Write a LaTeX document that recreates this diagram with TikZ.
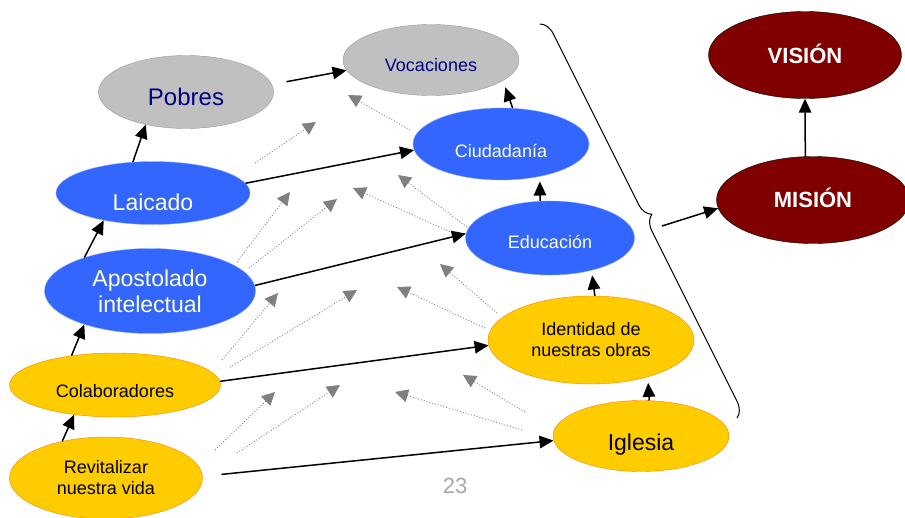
\documentclass[tikz,border=0pt]{standalone}
\usepackage{fontspec}
\setmainfont{Liberation Sans}
\usetikzlibrary{arrows.meta, shapes.geometric, decorations.pathreplacing}
\definecolor{nodeblue}{HTML}{3366FF}
\definecolor{nodegray}{HTML}{C0C0C0}
\definecolor{nodeyellow}{HTML}{FFCC00}
\definecolor{nodered}{HTML}{800000}
\definecolor{navytext}{HTML}{000080}
\definecolor{paletext}{HTML}{FFFFCC}
\definecolor{hintgray}{HTML}{808080}
\tikzset{%
    edge/.style={%
        line width=1.5pt,
        -{Triangle[length=14pt,width=12.5pt]},
    },
    hint/.style={%
        draw=hintgray, dotted, line width=0.9pt,
        -{Triangle[length=13pt,width=13pt]},
    },
    oval/.style={%
        ellipse,
        inner sep=0pt,
        align=center,
    },
    grayel/.style={%
        oval,
        fill=nodegray,
        draw=nodegray!80!black, thin,
        text=navytext,
    },
    blueel/.style={%
        oval,
        fill=nodeblue,
        draw=nodeblue!60!white, thin,
        text=paletext,
    },
    yellowel/.style={%
        oval,
        fill=nodeyellow,
        draw=orange, thin,
        text=black,
    },
    redel/.style={%
        oval,
        fill=nodered,
        draw=black, thin,
        text=white,
        font=\fontsize{22}{24}\selectfont\bfseries,
    },
    bigtext/.style={font=\fontsize{23}{26}\selectfont},
    smalltext/.style={font=\fontsize{18}{21}\selectfont},
    txt/.style={text height=#1, text depth=0pt},
}

\begin{document}
\begin{tikzpicture}[x=1pt, y=-1pt]
	\useasboundingbox (0,0) rectangle (905,517);

	% left column
	\node [grayel, font=\fontsize{24}{26}\selectfont, txt=27pt,
	       minimum width=175pt, minimum height=73pt] (pobres) at (186,92) {Pobres};
	\node [blueel, bigtext, txt=34.5pt,
	       minimum width=194pt, minimum height=63pt] (laicado) at (153,193) {Laicado};
	\node [blueel, bigtext,
	       minimum width=211pt, minimum height=85pt] (apostolado) at (150,291) {Apostolado\\intelectual};
	\node [yellowel, smalltext, txt=24pt,
	       minimum width=211pt, minimum height=64pt] (colab) at (115,385) {Colaboradores};
	\node [yellowel, smalltext,
	       minimum width=193pt, minimum height=82pt] (revital) at (106,478) {Revitalizar\\nuestra vida};

	% right column
	\node [grayel, smalltext, txt=22pt,
	       minimum width=176pt, minimum height=71pt] (vocaciones) at (431,60) {Vocaciones};
	\node [blueel, smalltext, txt=26pt,
	       minimum width=176pt, minimum height=72pt] (ciudad) at (501,144) {Ciudadanía};
	\node [blueel, smalltext, txt=20pt,
	       minimum width=169pt, minimum height=74pt] (educa) at (550,238) {Educación};
	\node [yellowel, smalltext,
	       minimum width=206pt, minimum height=88pt] (identidad) at (591,340) {Identidad de\\nuestras obras};
	\node [yellowel, bigtext, txt=29pt,
	       minimum width=176pt, minimum height=71pt] (iglesia) at (641,436) {Iglesia};

	% goal
	\node [redel, txt=16.8pt,
	       minimum width=193pt, minimum height=87pt] (vision) at (805,55) {VISIÓN};
	\node [redel, txt=15.8pt,
	       minimum width=193pt, minimum height=87pt] (mision) at (813,200) {MISIÓN};

	\node [text=gray!70, font=\fontsize{22}{24}\selectfont] (pagenum) at (455,486) {23};

	% brace
	\coordinate (brace_top) at (540,24);
	\coordinate (brace_bot) at (737,418);
	\coordinate (brace_out) at (662,226);
	\draw [decorate, decoration={brace, amplitude=15pt}, line width=1pt] (brace_top) -- (brace_bot);

	% weak links
	\foreach \n/\s/\t in {%
		1/{255,163}/{316,122},
		2/{410,130}/{348,95},
		3/{237,262}/{290,192},
		4/{249,268}/{337,199},
		5/{455,234}/{353,188},
		6/{467,227}/{398,175},
		7/{497,313}/{440,264},
		8/{222,360}/{278,293},
		9/{230,367}/{357,290},
		10/{485,328}/{397,287},
		11/{215,450}/{275,392},
		12/{237,453}/{340,385},
		13/{525,412}/{463,375},
		14/{522,430}/{395,392}}
	{
		\coordinate (hs\n) at (\s);
		\coordinate (ht\n) at (\t);
		\draw [hint] (hs\n) -- (ht\n);
	}

	% strong links
	\draw [edge] (laicado.123) -- (pobres.219);
	\draw [edge] (apostolado.153) -- (laicado.209);
	\draw [edge] (colab.146) -- (apostolado.207);
	\draw [edge] (revital.140) -- (colab.216);
	\draw [edge, shorten <=15pt] (pobres.5) -- (vocaciones.187);
	\draw [edge] (laicado.6) -- (ciudad.184);
	\draw [edge] (apostolado.3) -- (educa.177);
	\draw [edge] (colab.2) -- (identidad.183);
	\draw [edge, shorten <=19pt] (revital.1) -- (iglesia.183);
	\draw [edge, shorten >=7pt] (ciudad.72) -- (vocaciones.344);
	\draw [edge, shorten >=5pt] (educa.105) -- (ciudad.320);
	\draw [edge, shorten >=5pt] (identidad.85) -- (educa.322);
	\draw [edge, shorten >=6pt] (iglesia.77) -- (identidad.327);
	\draw [edge] (mision.100) -- (vision.south);
	\draw [edge] (brace_out) -- (mision.185);
\end{tikzpicture}
\end{document}
